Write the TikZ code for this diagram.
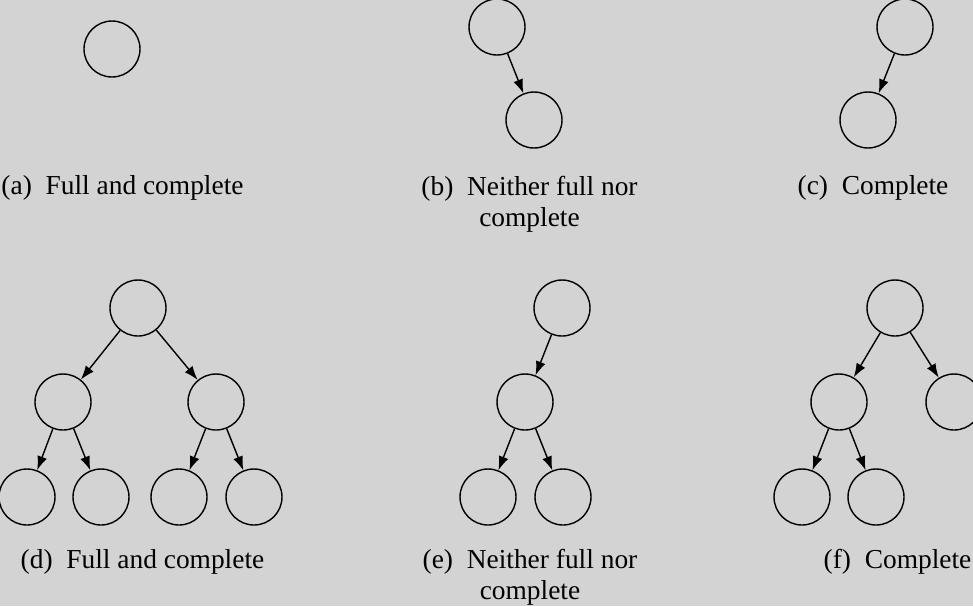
\documentclass[tikz,border=0pt]{standalone}
\usepackage{fontspec}
\setmainfont{Liberation Serif}
\usetikzlibrary{arrows.meta}
\definecolor{bggray}{RGB}{211,211,211}
\tikzset{
    mynode/.style = {circle, draw=black, line width=0.8pt, minimum size=1.12cm, inner sep=0pt},
    edgen/.style = {-{Latex[length=2.8mm,width=2mm]}, line width=0.8pt},
    capt/.style = {anchor=base, align=center, font=\fontsize{15.6}{17.6}\selectfont},
}

\begin{document}
\begin{tikzpicture}[x=0.02cm, y=-0.02cm]
\fill[bggray] (0,0) rectangle (973,606);
\useasboundingbox (0,0) rectangle (973,606);
% (a)
\node[mynode] at (112,49) (a1) {};
% (b)
\node[mynode] at (497,27) (b1) {};
\node[mynode] at (534,120) (b2) {};
\draw[edgen] (b1) -- (b2);
% (c)
\node[mynode] at (905,27) (c1) {};
\node[mynode] at (868,120) (c2) {};
\draw[edgen] (c1) -- (c2);
% (d)
\node[mynode] at (138,308) (d1) {};
\node[mynode] at (63,402) (d2) {};
\node[mynode] at (216,402) (d3) {};
\node[mynode] at (27,497) (d4) {};
\node[mynode] at (101,497) (d5) {};
\node[mynode] at (179,497) (d6) {};
\node[mynode] at (254,497) (d7) {};
\draw[edgen] (d1) -- (d2);
\draw[edgen] (d1) -- (d3);
\draw[edgen] (d2) -- (d4);
\draw[edgen] (d2) -- (d5);
\draw[edgen] (d3) -- (d6);
\draw[edgen] (d3) -- (d7);
% (e)
\node[mynode] at (562,308) (e1) {};
\node[mynode] at (525,402) (e2) {};
\node[mynode] at (488,497) (e3) {};
\node[mynode] at (563,497) (e4) {};
\draw[edgen] (e1) -- (e2);
\draw[edgen] (e2) -- (e3);
\draw[edgen] (e2) -- (e4);
% (f)
\node[mynode] at (895,308) (f1) {};
\node[mynode] at (839,402) (f2) {};
\node[mynode] at (954,402) (f3) {};
\node[mynode] at (802,497) (f4) {};
\node[mynode] at (876,497) (f5) {};
\draw[edgen] (f1) -- (f2);
\draw[edgen] (f1) -- (f3);
\draw[edgen] (f2) -- (f4);
\draw[edgen] (f2) -- (f5);
% captions (base is the last line)
\node[capt] at (122.5,194) (capa) {(a)\enskip Full and complete};
\node[capt] at (529.5,226) (capb) {(b)\enskip Neither full nor\\complete};
\node[capt] at (873,194) (capc) {(c)\enskip Complete};
\node[capt] at (142.5,568) (capd) {(d)\enskip Full and complete};
\node[capt] at (530,599) (cape) {(e)\enskip Neither full nor\\complete};
\node[capt] at (897.5,568) (capf) {(f)\enskip Complete};
\end{tikzpicture}
\end{document}
